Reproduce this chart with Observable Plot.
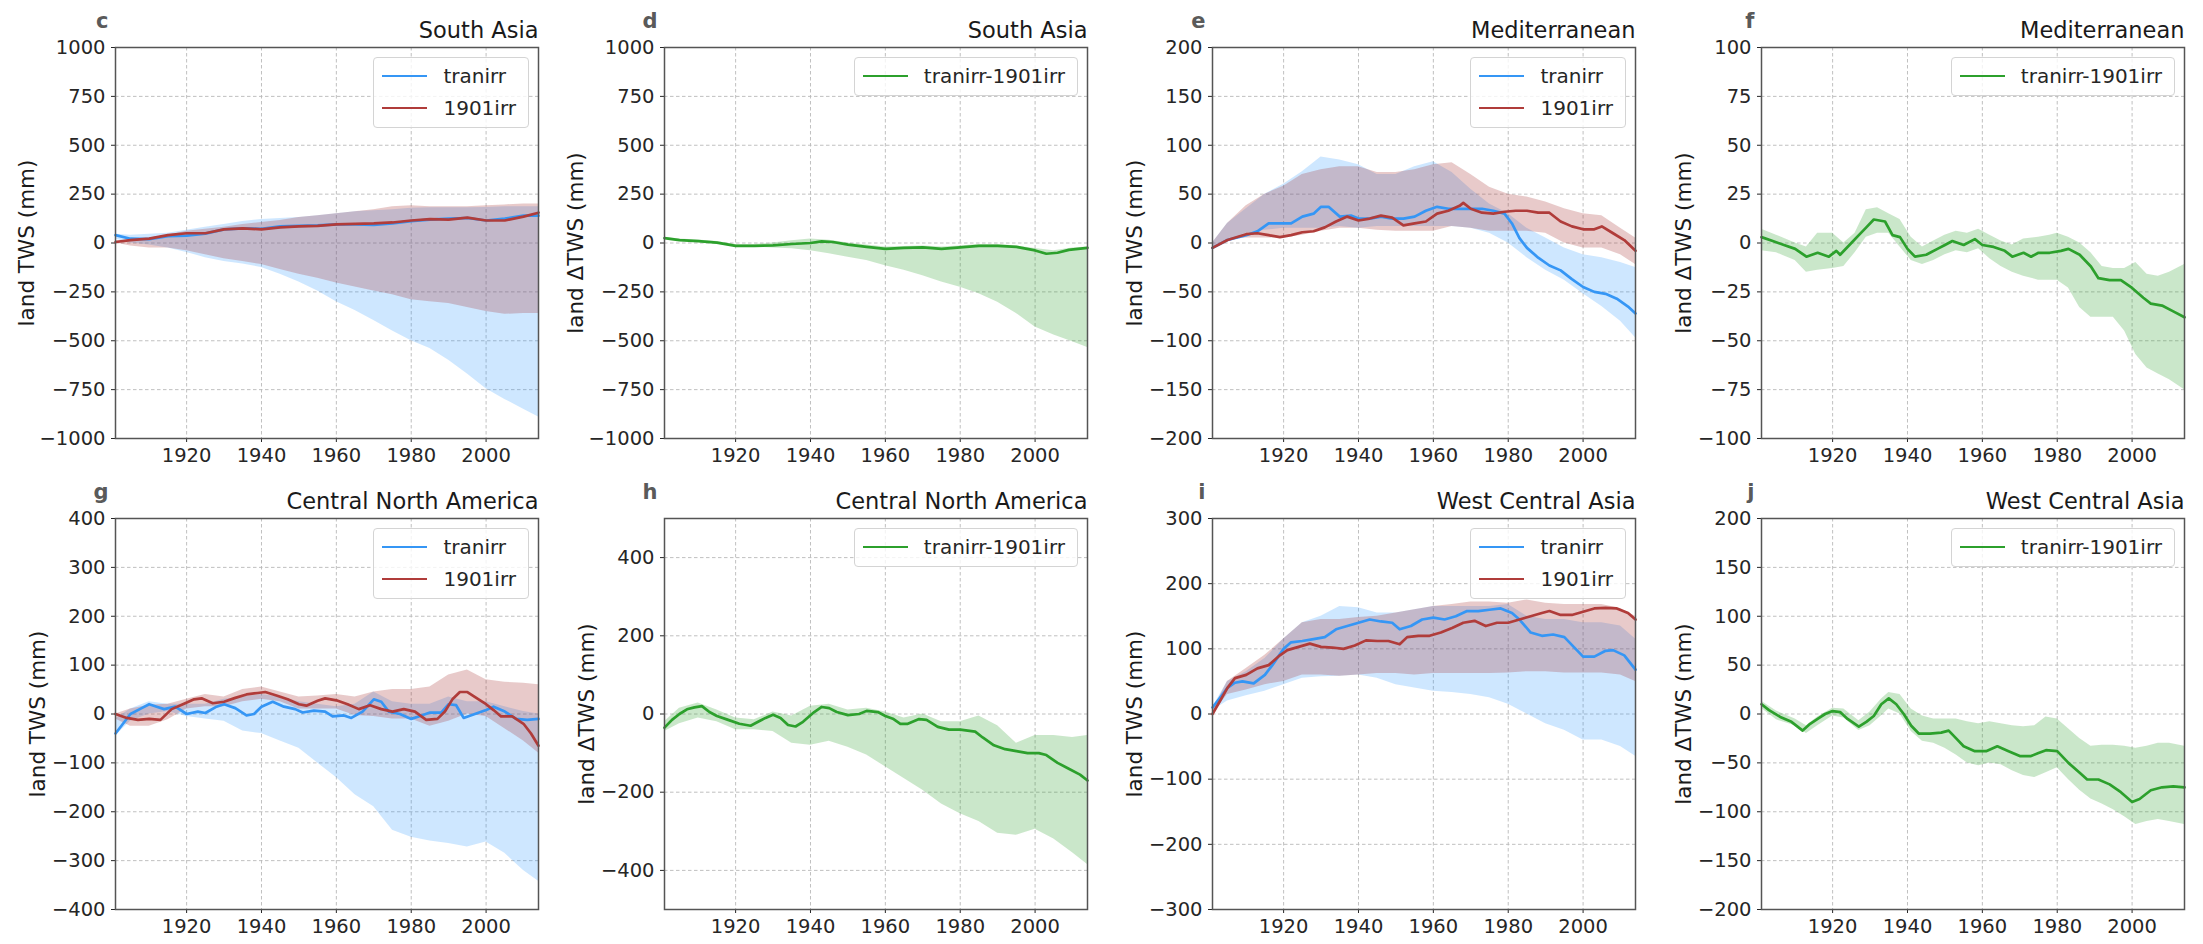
<!DOCTYPE html>
<html><head><meta charset="utf-8">
<script src="https://cdn.jsdelivr.net/npm/d3@7"></script>
<script src="https://cdn.jsdelivr.net/npm/@observablehq/plot@0.6"></script>
<style>
html,body{margin:0;padding:0;background:#fff;}
#chart{position:relative;width:2203px;height:944px;font-family:"DejaVu Sans",sans-serif;color:#262626;overflow:hidden;}
.panel{position:absolute;}
.legend{position:absolute;background:rgba(255,255,255,0.8);border:1px solid #d4d4d4;border-radius:4px;padding:2px 12px 3px 8px;font-size:20px;color:#262626;}
.legend .row{display:flex;align-items:center;height:32px;white-space:nowrap;}
.legend .sw{display:inline-block;width:45px;height:0;border-top:2.8px solid;margin-right:16px;}
</style></head><body><div id="chart"></div>
<script>
// ---------------- data ----------------
const xTicks = [1920, 1940, 1960, 1980, 2000];
const B5 = [1901,1905,1910,1915,1920,1925,1930,1935,1940,1945,1950,1955,1960,1965,1970,1975,1980,1985,1990,1995,2000,2005,2010,2014];

// c / d : South Asia
const c_tranirr = [40,22,20,35,38,48,70,75,73,85,88,90,95,95,93,100,112,120,125,128,115,125,140,140];
const c_1901irr = [5,15,22,40,50,50,70,75,70,80,85,88,95,98,100,105,115,122,120,130,115,115,135,155];
const c_tranirr_hi = [45,40,45,50,65,80,95,110,120,125,130,140,150,160,165,170,178,180,180,180,182,185,185,185];
const c_tranirr_lo = [20,0,-10,-25,-48,-75,-95,-108,-125,-160,-200,-245,-300,-345,-397,-450,-500,-540,-600,-670,-745,-800,-850,-890];
const c_1901irr_hi = [10,15,25,40,60,70,80,95,105,115,130,140,150,160,170,185,190,185,185,185,190,195,200,200];
const c_1901irr_lo = [0,-15,-25,-25,-40,-60,-80,-95,-110,-135,-160,-180,-205,-225,-245,-265,-290,-300,-310,-330,-350,-365,-360,-360];

const d_years = [1901,1905,1910,1915,1920,1925,1930,1935,1940,1943,1946,1950,1955,1960,1965,1970,1975,1980,1985,1990,1995,2000,2003,2006,2009,2014];
const d_diff = [25,15,10,2,-15,-15,-12,-5,0,8,5,-8,-20,-30,-25,-22,-30,-22,-15,-15,-20,-38,-55,-50,-35,-25];
const d_hi = [30,20,15,8,-8,-8,0,12,20,14,0,-10,-20,-18,-15,-20,-15,-8,-8,-15,-28,-40,-25,-20];
const d_lo = [20,10,5,-5,-20,-22,-25,-30,-40,-55,-73,-90,-116,-140,-167,-200,-226,-260,-303,-360,-430,-470,-505,-535];

// e / f : Mediterranean
const e_tranirr_years = [1901,1905,1910,1913,1916,1920,1922,1925,1928,1930,1932,1935,1938,1940,1943,1946,1949,1952,1955,1958,1961,1964,1967,1970,1973,1976,1979,1981,1983,1985,1988,1991,1994,1997,2000,2003,2006,2009,2012,2014];
const e_tranirr = [-5,3,8,12,20,20,20,27,30,37,37,27,28,25,25,27,25,25,27,33,37,35,35,35,35,33,30,20,5,-5,-15,-23,-28,-37,-45,-50,-52,-57,-65,-72];
const e_1901irr_years = [1901,1905,1910,1913,1916,1919,1922,1925,1928,1931,1934,1937,1940,1943,1946,1949,1952,1955,1958,1961,1964,1967,1968,1970,1973,1976,1979,1982,1985,1988,1991,1994,1997,2000,2003,2005,2008,2011,2014];
const e_1901irr = [-5,3,9,10,8,6,8,11,12,16,22,27,23,25,28,26,18,20,22,30,33,38,41,35,31,30,32,33,33,31,31,22,17,14,14,17,10,3,-8];
const e_tranirr_hi = [0,20,35,50,60,73,88,85,80,70,70,78,83,72,55,40,30,15,5,-5,-12,-15,-20,-25];
const e_tranirr_lo = [-5,3,10,13,15,15,15,17,15,17,17,17,17,17,15,10,0,-15,-28,-38,-52,-65,-80,-97];
const e_1901irr_hi = [0,20,38,50,58,70,75,78,78,72,72,75,80,82,70,57,50,47,42,35,30,28,15,5];
const e_1901irr_lo = [-5,3,5,5,5,8,12,15,15,13,12,12,12,17,15,12,12,12,10,0,-5,-5,-12,-22];

const f_years = [1901,1904,1907,1910,1913,1916,1919,1921,1922,1925,1927,1929,1931,1934,1936,1938,1940,1942,1945,1948,1950,1952,1955,1958,1960,1963,1966,1968,1971,1973,1975,1978,1981,1983,1986,1989,1991,1994,1997,2000,2003,2005,2008,2011,2014];
const f_diff = [3,1,-1,-3,-7,-5,-7,-4,-6,0,4,8,12,11,4,3,-3,-7,-6,-3,-1,1,-1,2,-1,-2,-4,-7,-5,-7,-5,-5,-4,-3,-6,-12,-18,-19,-19,-23,-28,-31,-32,-35,-38];
const f_band_years = [1901,1905,1910,1913,1916,1920,1923,1926,1929,1932,1935,1938,1941,1944,1947,1950,1953,1956,1959,1962,1965,1968,1971,1975,1978,1980,1983,1986,1989,1992,1995,1998,2001,2004,2007,2010,2014];
const f_hi = [7,4,0,-2,5,5,0,5,17,18,15,12,3,-2,1,4,6,5,7,4,1,-1,2,3,4,5,3,0,-5,-12,-13,-13,-10,-16,-17,-15,-11];
const f_lo = [-4,-5,-9,-15,-14,-13,-12,-5,3,5,5,-2,-9,-11,-9,-6,-4,-5,-3,-8,-12,-15,-17,-19,-19,-19,-23,-33,-38,-38,-38,-45,-57,-64,-67,-70,-75];

// g / h : Central North America
const g_tranirr_years = [1901,1903,1905,1908,1910,1912,1914,1917,1920,1923,1925,1928,1930,1933,1936,1938,1940,1943,1946,1949,1951,1954,1957,1959,1962,1964,1967,1970,1972,1974,1977,1980,1982,1985,1988,1990,1992,1994,1997,2000,2002,2005,2008,2011,2014];
const g_tranirr = [-40,-20,0,12,20,15,10,15,0,5,2,15,20,12,-3,0,15,25,15,10,3,7,5,-5,-3,-8,5,30,25,5,0,-10,-5,3,3,20,18,-8,0,8,15,5,-10,-12,-10];
const g_1901irr_years = [1901,1904,1907,1910,1913,1916,1919,1922,1924,1927,1930,1933,1936,1939,1941,1944,1947,1950,1952,1955,1957,1960,1963,1966,1969,1972,1975,1978,1981,1984,1987,1989,1991,1993,1995,1998,2000,2002,2004,2007,2010,2012,2014];
const g_1901irr = [0,-8,-12,-10,-12,10,20,30,32,22,25,33,40,43,45,38,30,20,17,27,32,28,20,10,18,10,5,10,5,-12,-10,5,30,45,45,30,20,8,-5,-5,-20,-40,-65];
const g_tranirr_hi = [-10,10,25,20,20,20,30,35,40,35,25,20,15,20,45,25,20,20,35,25,25,15,5,0];
const g_tranirr_lo = [-45,-15,0,5,-5,-10,-15,-35,-40,-55,-70,-100,-130,-165,-190,-238,-252,-260,-265,-272,-262,-285,-320,-342];
const g_1901irr_hi = [0,10,18,20,30,40,35,50,55,45,35,37,40,35,45,50,50,55,80,90,70,65,63,60];
const g_1901irr_lo = [-10,-25,-25,-12,10,15,15,25,30,25,10,10,10,-3,-5,-10,-10,-25,-15,0,-5,-30,-55,-80];

const h_years = [1901,1903,1905,1907,1909,1911,1913,1915,1918,1921,1924,1926,1928,1930,1932,1934,1936,1938,1941,1943,1945,1947,1950,1953,1955,1958,1960,1962,1964,1966,1969,1971,1974,1977,1980,1984,1986,1989,1992,1995,1998,2001,2003,2006,2009,2012,2014];
const h_diff = [-35,-15,0,12,17,20,5,-5,-15,-25,-30,-20,-10,-2,-10,-28,-32,-20,5,18,15,5,-3,0,8,5,-5,-12,-25,-25,-13,-15,-33,-40,-40,-45,-60,-80,-90,-95,-100,-100,-105,-125,-140,-155,-170];
const h_hi = [-20,15,28,10,-10,-15,5,-5,20,25,10,15,5,-10,0,-20,-20,-5,-30,-75,-55,-55,-60,-55];
const h_lo = [-45,-25,-10,-20,-40,-40,-45,-75,-80,-70,-85,-105,-135,-165,-195,-230,-255,-275,-305,-310,-295,-320,-355,-385];

// i / j : West Central Asia
const i_tranirr_years = [1901,1903,1905,1907,1909,1912,1915,1917,1920,1922,1925,1928,1931,1934,1937,1940,1943,1946,1949,1951,1954,1957,1960,1963,1966,1969,1972,1975,1978,1981,1983,1986,1989,1992,1995,1998,2000,2003,2006,2008,2011,2014];
const i_tranirr = [10,25,40,48,50,47,60,75,100,110,112,115,118,130,135,140,145,142,140,130,135,145,148,145,150,158,158,160,162,155,145,125,120,122,118,100,88,88,97,98,90,68];
const i_1901irr_years = [1901,1903,1905,1907,1910,1913,1916,1919,1921,1924,1927,1930,1933,1936,1939,1942,1945,1948,1951,1953,1956,1959,1962,1965,1968,1971,1974,1977,1980,1983,1986,1989,1991,1994,1997,2000,2003,2006,2009,2012,2014];
const i_1901irr = [0,20,40,55,60,70,75,90,98,103,108,103,102,100,105,113,112,112,107,118,120,120,125,132,140,143,135,140,140,145,150,155,158,152,152,157,162,163,162,155,145];
const i_tranirr_hi = [10,50,65,85,115,140,150,165,163,155,155,160,165,165,165,165,168,150,145,145,140,140,135,115];
const i_tranirr_lo = [5,20,28,35,45,55,57,58,60,55,45,40,35,33,30,25,15,0,-15,-25,-40,-40,-50,-65];
const i_1901irr_hi = [5,50,70,90,115,140,145,145,148,150,155,160,165,168,172,172,170,175,170,168,168,168,162,150];
const i_1901irr_lo = [0,30,37,45,50,60,60,58,60,62,62,60,62,62,62,62,63,65,65,63,63,63,60,50];

const j_years = [1901,1903,1906,1909,1912,1914,1916,1918,1920,1922,1924,1927,1929,1931,1933,1935,1937,1939,1941,1943,1946,1949,1951,1953,1955,1958,1961,1964,1967,1970,1973,1975,1977,1980,1983,1986,1988,1991,1994,1997,2000,2002,2005,2008,2011,2014];
const j_diff = [10,4,-3,-8,-17,-10,-5,0,3,2,-5,-13,-8,-2,10,16,10,0,-12,-20,-20,-19,-17,-25,-33,-38,-38,-33,-38,-43,-43,-40,-37,-38,-50,-60,-67,-67,-72,-80,-90,-87,-78,-75,-74,-75];
const j_band_years = [1901,1905,1910,1913,1916,1920,1923,1927,1930,1933,1935,1938,1941,1944,1947,1950,1953,1956,1959,1962,1965,1968,1971,1974,1977,1980,1983,1986,1989,1992,1995,1998,2001,2004,2007,2010,2014];
const j_hi = [13,3,-5,-12,-3,6,5,-7,2,15,22,20,5,-2,-5,-5,-5,-8,-10,-8,-10,-12,-13,-12,-3,-5,-15,-25,-33,-32,-32,-33,-35,-33,-30,-30,-33];
const j_lo = [6,-6,-12,-20,-12,-2,-4,-17,-12,-2,5,0,-18,-28,-30,-35,-42,-50,-53,-50,-52,-58,-63,-65,-60,-55,-67,-78,-87,-92,-98,-105,-113,-110,-108,-110,-113];

// ---------------- helpers ----------------
const pts = (years, vals) => years.map((year, i) => ({year, v: vals[i]}));
const band = (years, lo, hi) => years.map((year, i) => ({year, lo: lo[i], hi: hi[i]}));
const BLUE = "#3596f5", BLUE_F = "#1e90ff";
const RED = "#b03c3a", RED_F = "#a52a2a";
const GREEN = "#2ca02c", GREEN_F = "#2ca02c";
const range = (a, b, s) => d3.range(a, b + s / 2, s);

const COL_LEFT = [115, 664, 1212, 1761];
const ROW_TOP = [47, 518];
const PW = 423, PH = 391, ML = 115, MR = 10, MT = 47, MB = 32;

const chart = document.getElementById("chart");

function makePanel(p) {
  const inner = p.ticks.filter(t => t > p.domain[0] && t < p.domain[1]);
  const marks = [
    Plot.ruleX(xTicks, {stroke: "#b9b9b9", strokeWidth: 0.9, strokeDasharray: "3.5,2.5"}),
    Plot.ruleY(inner, {stroke: "#b9b9b9", strokeWidth: 0.9, strokeDasharray: "3.5,2.5"}),
    ...p.bands.map(b => Plot.areaY(b.data, {x: "year", y1: "lo", y2: "hi", fill: b.color, fillOpacity: b.opacity ?? 0.25})),
    ...p.lines.map(l => Plot.lineY(l.data, {x: "year", y: "v", stroke: l.color, strokeWidth: 2.7})),
    Plot.frame({stroke: "#555", strokeWidth: 1.5}),
    Plot.text([p.title], {frameAnchor: "top-right", textAnchor: "end", lineAnchor: "bottom", dy: -10, fontSize: 22.5, fill: "#1a1a1a"}),
    Plot.text([p.letter], {frameAnchor: "top-left", textAnchor: "end", lineAnchor: "bottom", dx: -7, dy: -20, fontSize: 21, fontWeight: "bold", fill: "#5a5a5a"}),
    Plot.text([p.ylabel], {frameAnchor: "left", rotate: -90, textAnchor: "middle", lineAnchor: "middle", dx: -p.labelOffset, fontSize: 21.5, fill: "#1a1a1a"})
  ];
  const svg = Plot.plot({
    width: ML + PW + MR, height: MT + PH + MB,
    marginLeft: ML, marginRight: MR, marginTop: MT, marginBottom: MB,
    x: {domain: [1901, 2014], ticks: xTicks, tickFormat: d => String(d), tickSize: 4, tickPadding: 6, label: null},
    y: {domain: p.domain, ticks: p.ticks, tickFormat: d3.format("d"), tickSize: 4, tickPadding: 6, label: null},
    style: {fontFamily: "DejaVu Sans", fontSize: "19.5px", color: "#262626", background: "transparent", overflow: "visible"},
    marks
  });
  const div = document.createElement("div");
  div.className = "panel";
  div.style.left = (COL_LEFT[p.col] - ML) + "px";
  div.style.top = (ROW_TOP[p.row] - MT) + "px";
  div.style.width = (ML + PW + MR) + "px";
  div.style.height = (MT + PH + MB) + "px";
  div.appendChild(svg);
  const leg = document.createElement("div");
  leg.className = "legend";
  leg.style.right = (MR + 9) + "px";
  leg.style.top = (MT + 10) + "px";
  for (const e of p.legend) {
    const row = document.createElement("div");
    row.className = "row";
    const sw = document.createElement("span");
    sw.className = "sw";
    sw.style.borderColor = e.color;
    const tx = document.createElement("span");
    tx.textContent = e.label;
    row.appendChild(sw); row.appendChild(tx);
    leg.appendChild(row);
  }
  div.appendChild(leg);
  chart.appendChild(div);
}

const legTwo = [{label: "tranirr", color: BLUE}, {label: "1901irr", color: RED}];
const legOne = [{label: "tranirr-1901irr", color: GREEN}];

makePanel({col: 0, row: 0, letter: "c", title: "South Asia", ylabel: "land TWS (mm)", labelOffset: 88,
  domain: [-1000, 1000], ticks: range(-1000, 1000, 250),
  bands: [{data: band(B5, c_tranirr_lo, c_tranirr_hi), color: BLUE_F, opacity: 0.22},
          {data: band(B5, c_1901irr_lo, c_1901irr_hi), color: RED_F, opacity: 0.25}],
  lines: [{data: pts(B5, c_tranirr), color: BLUE}, {data: pts(B5, c_1901irr), color: RED}],
  legend: legTwo});

makePanel({col: 1, row: 0, letter: "d", title: "South Asia", ylabel: "land ΔTWS (mm)", labelOffset: 88,
  domain: [-1000, 1000], ticks: range(-1000, 1000, 250),
  bands: [{data: band(B5, d_lo, d_hi), color: GREEN_F, opacity: 0.25}],
  lines: [{data: pts(d_years, d_diff), color: GREEN}],
  legend: legOne});

makePanel({col: 2, row: 0, letter: "e", title: "Mediterranean", ylabel: "land TWS (mm)", labelOffset: 77,
  domain: [-200, 200], ticks: range(-200, 200, 50),
  bands: [{data: band(B5, e_tranirr_lo, e_tranirr_hi), color: BLUE_F, opacity: 0.22},
          {data: band(B5, e_1901irr_lo, e_1901irr_hi), color: RED_F, opacity: 0.25}],
  lines: [{data: pts(e_tranirr_years, e_tranirr), color: BLUE}, {data: pts(e_1901irr_years, e_1901irr), color: RED}],
  legend: legTwo});

makePanel({col: 3, row: 0, letter: "f", title: "Mediterranean", ylabel: "land ΔTWS (mm)", labelOffset: 77,
  domain: [-100, 100], ticks: range(-100, 100, 25),
  bands: [{data: band(f_band_years, f_lo, f_hi), color: GREEN_F, opacity: 0.25}],
  lines: [{data: pts(f_years, f_diff), color: GREEN}],
  legend: legOne});

makePanel({col: 0, row: 1, letter: "g", title: "Central North America", ylabel: "land TWS (mm)", labelOffset: 77,
  domain: [-400, 400], ticks: range(-400, 400, 100),
  bands: [{data: band(B5, g_tranirr_lo, g_tranirr_hi), color: BLUE_F, opacity: 0.22},
          {data: band(B5, g_1901irr_lo, g_1901irr_hi), color: RED_F, opacity: 0.25}],
  lines: [{data: pts(g_tranirr_years, g_tranirr), color: BLUE}, {data: pts(g_1901irr_years, g_1901irr), color: RED}],
  legend: legTwo});

makePanel({col: 1, row: 1, letter: "h", title: "Central North America", ylabel: "land ΔTWS (mm)", labelOffset: 77,
  domain: [-500, 500], ticks: range(-400, 400, 200),
  bands: [{data: band(B5, h_lo, h_hi), color: GREEN_F, opacity: 0.25}],
  lines: [{data: pts(h_years, h_diff), color: GREEN}],
  legend: legOne});

makePanel({col: 2, row: 1, letter: "i", title: "West Central Asia", ylabel: "land TWS (mm)", labelOffset: 77,
  domain: [-300, 300], ticks: range(-300, 300, 100),
  bands: [{data: band(B5, i_tranirr_lo, i_tranirr_hi), color: BLUE_F, opacity: 0.22},
          {data: band(B5, i_1901irr_lo, i_1901irr_hi), color: RED_F, opacity: 0.25}],
  lines: [{data: pts(i_tranirr_years, i_tranirr), color: BLUE}, {data: pts(i_1901irr_years, i_1901irr), color: RED}],
  legend: legTwo});

makePanel({col: 3, row: 1, letter: "j", title: "West Central Asia", ylabel: "land ΔTWS (mm)", labelOffset: 77,
  domain: [-200, 200], ticks: range(-200, 200, 50),
  bands: [{data: band(j_band_years, j_lo, j_hi), color: GREEN_F, opacity: 0.25}],
  lines: [{data: pts(j_years, j_diff), color: GREEN}],
  legend: legOne});
</script></body></html>
